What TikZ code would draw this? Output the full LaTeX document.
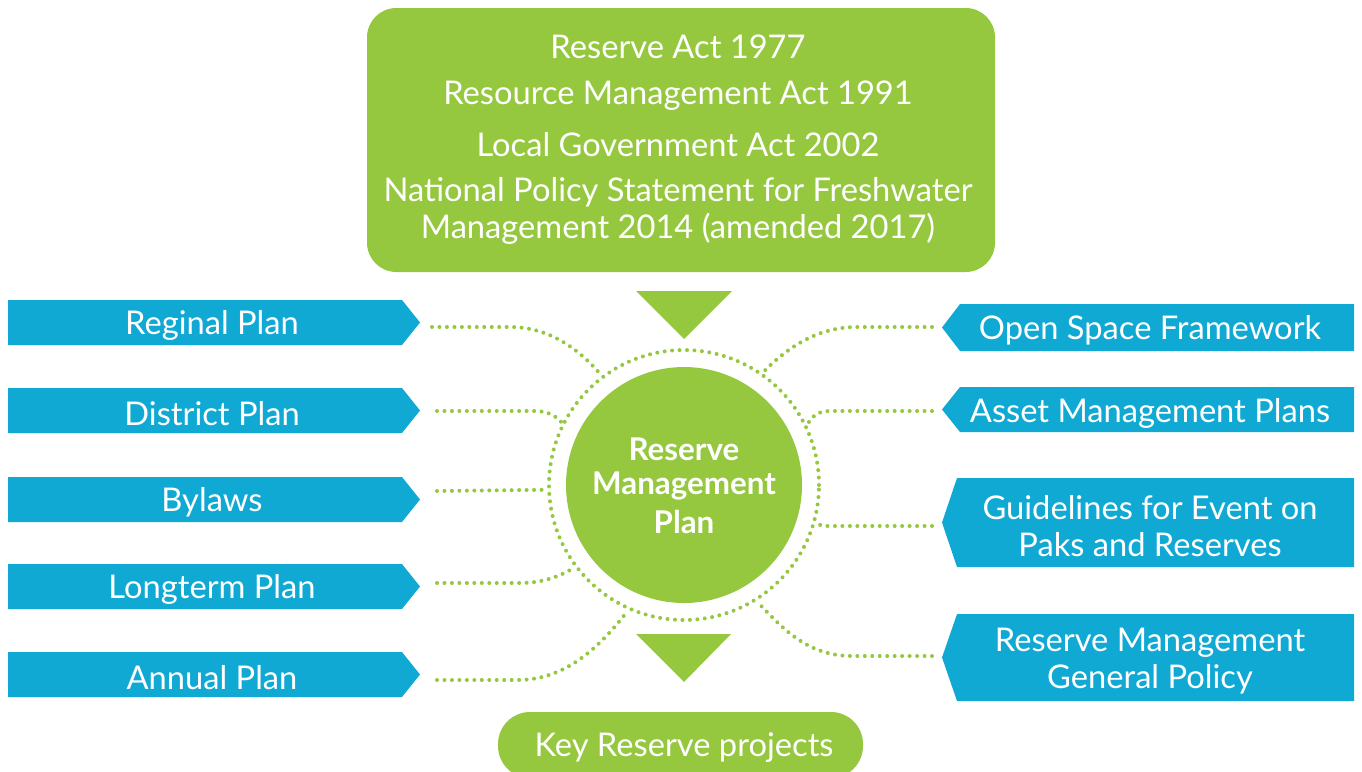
\documentclass[tikz,border=0pt]{standalone}
\usepackage{fontspec}
\setmainfont{Lato}
\definecolor{gr}{HTML}{95C83F}
\definecolor{bl}{HTML}{10A9D4}
\begin{document}
\begin{tikzpicture}[x=0.75pt,y=-0.75pt,
  dots/.style={draw=gr, line width=3pt, line cap=round, dash pattern=on 0pt off 5.6pt},
  wtxt/.style={text=white, inner sep=0pt, yshift=-2pt, font=\fontsize{24.5}{28}\selectfont},
  ctxt/.style={text=white, inner sep=0pt, yshift=-1pt, font=\bfseries\fontsize{23.5}{28}\selectfont},
  lbl/.style={text=white, inner sep=0pt, yshift=-2pt, align=center, font=\fontsize{24.5}{27.8}\selectfont}]
\useasboundingbox (0,0) rectangle (1362,771);
\clip (0,0) rectangle (1362,771);
% top box
\fill[gr, rounded corners=22pt] (367,8) rectangle (995,272);
\node[wtxt] (a1) at (678,44) {Reserve Act 1977};
\node[wtxt] (a2) at (678,93) {Resource Management Act 1991};
\node[wtxt] (a3) at (678,142) {Local Government Act 2002};
\node[wtxt] (a4) at (678,190) {National Policy Statement for Freshwater};
\node[wtxt] (a5) at (678,226) {Management 2014 (amended 2017)};
% triangles
\fill[gr] (636,291) -- (732,291) -- (684,339) -- cycle;
\fill[gr] (636,634) -- (731,634) -- (684,682) -- cycle;
% centre
\node[circle, fill=gr, minimum size=177pt, inner sep=0pt] (rmp) at (684,485) {};
\node[circle, dots, minimum size=202.5pt, inner sep=0pt] (ring) at (684,485) {};
\node[ctxt] (c1) at (684,448) {Reserve};
\node[ctxt] (c2) at (684,485) {Management};
\node[ctxt] (c3) at (684,521) {Plan};
% bottom pill
\fill[gr, rounded corners=24pt] (498,712) rectangle (863,778);
\node[wtxt] (key) at (684,745) {Key Reserve projects};
% left boxes
\foreach \yy in {300,388,477,564,652}{
  \fill[bl] (8,\yy) -- (402,\yy) -- (420,\yy+22.5) -- (402,\yy+45) -- (8,\yy+45) -- cycle;
}
\node[lbl] (reg) at (212,322.5) {Reginal Plan};
\node[lbl] (dis) at (212,410.5) {District Plan};
\node[lbl] (byl) at (212,499.5) {Bylaws};
\node[lbl] (ltp) at (212,586.5) {Longterm Plan};
\node[lbl] (ann) at (212,674.5) {Annual Plan};
% right boxes
\fill[bl] (1354,304) -- (960,304) -- (942,327.5) -- (960,351) -- (1354,351) -- cycle;
\fill[bl] (1354,387) -- (960,387) -- (942,409.5) -- (960,432) -- (1354,432) -- cycle;
\fill[bl] (1354,478) -- (957,478) -- (942,522.5) -- (957,567) -- (1354,567) -- cycle;
\fill[bl] (1354,614) -- (957,614) -- (942,657.5) -- (957,701) -- (1354,701) -- cycle;
\node[lbl] (osf) at (1150,327.5) {Open Space Framework};
\node[lbl] (amp) at (1150,411) {Asset Management Plans};
\node[lbl] (gle) at (1150,523) {Guidelines for Event on\\Paks and Reserves};
\node[lbl] (rgp) at (1150,658) {Reserve Management\\General Policy};
% connector free ends
\coordinate (e1) at (432,327);
\coordinate (e2) at (437,411);
\coordinate (e3) at (437,491);
\coordinate (e4) at (437,583);
\coordinate (e5) at (437,680);
\coordinate (f1) at (932,327);
\coordinate (f2) at (932,411);
\coordinate (f3) at (932,526);
\coordinate (f4) at (932,656);
% connectors
\draw[dots] (e1) -- (510,327) .. controls (550,327) and (580,350) .. (ring.127.5);
\draw[dots] (e2) -- (535,411) .. controls (548,411) and (556,416) .. (ring.153);
\draw[dots] (e3) -- (ring.182.5);
\draw[dots] (e4) -- (520,583) .. controls (545,583) and (562,575) .. (ring.217);
\draw[dots] (e5) -- (518,680) .. controls (570,680) and (605,640) .. (ring.246);
\draw[dots] (f1) -- (857,327) .. controls (815,327) and (785,350) .. (ring.55);
\draw[dots] (f2) -- (830,411) .. controls (818,411) and (812,416) .. (ring.26);
\draw[dots] (f3) -- (825,526) .. controls (820,526) and (818,524) .. (ring.345);
\draw[dots] (f4) -- (852,656) .. controls (805,656) and (780,625) .. (ring.302);
\end{tikzpicture}
\end{document}
